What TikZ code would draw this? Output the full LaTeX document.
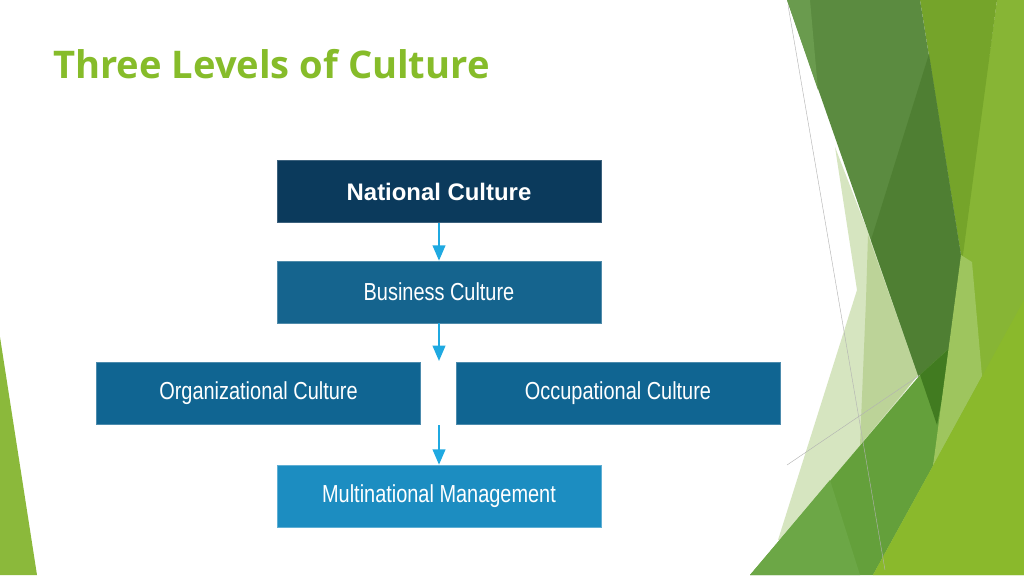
\documentclass[tikz,border=0pt]{standalone}
\usepackage{fontspec}
\usepackage{graphicx}
\setmainfont{Liberation Sans}
\newfontfamily\titlefont{Open Sans}
\usetikzlibrary{arrows.meta}
\definecolor{navy}{HTML}{0B3A5C}
\definecolor{bizblue}{HTML}{15648E}
\definecolor{orgblue}{HTML}{106592}
\definecolor{mnblue}{HTML}{1C8DC1}
\definecolor{arrowblue}{HTML}{1FA9E1}
\definecolor{titlegreen}{HTML}{86BC2A}
\definecolor{paleA}{HTML}{D6E5C0}
\definecolor{paleB}{HTML}{BCD398}
\definecolor{darkA}{HTML}{5B8B40}
\definecolor{darkB}{HTML}{4F7F33}
\definecolor{darkC}{HTML}{417B20}
\definecolor{stripA}{HTML}{6A9B4E}
\definecolor{bandA}{HTML}{75A42A}
\definecolor{limeA}{HTML}{87B535}
\definecolor{limeB}{HTML}{8AB92C}
\definecolor{midgreen}{HTML}{64A03B}
\definecolor{midlight}{HTML}{6CA746}
\definecolor{lightband}{HTML}{9EC55E}
\definecolor{lefttri}{HTML}{8BB93B}
\begin{document}
\begin{tikzpicture}[x=0.025cm,y=-0.025cm,
  box/.style={minimum width=8.1cm, minimum height=1.55cm, inner sep=0pt, text=white,
    font=\fontsize{17.5}{20}\selectfont},
  arr/.style={draw=arrowblue, line width=1.6pt, -{Triangle[length=11pt,width=9pt]}},
  thinline/.style={draw=black!30, line width=0.3pt}]
\useasboundingbox (0,0) rectangle (1024,575);
\fill[white] (0,0) rectangle (1024,575);
% background facets
\fill[limeA] (997,0) -- (1024,0) -- (1024,575) -- (873,575) -- (933,466) -- (961,255) -- cycle;
\fill[bandA] (920,0) -- (997,0) -- (962,262) -- cycle;
\fill[paleA] (835,147) -- (871,240) -- (918,375) -- (790,540) -- (778,540) -- (857,290) -- cycle;
\fill[paleB] (868,235) -- (918,375) -- (860,445) -- (866,300) -- cycle;
\fill[darkA] (787,0) -- (920,0) -- (962,262) -- (937,425) -- (918,375) -- cycle;
\fill[stripA] (787,0) -- (810,0) -- (818,90) -- cycle;
\fill[darkB] (929,54) -- (871,240) -- (918,375) -- (937,425) -- (962,262) -- cycle;
\fill[midgreen] (750,575) -- (920,375) -- (955,343) -- (933,466) -- (873,575) -- cycle;
\fill[midlight] (750,575) -- (830,480) -- (860,575) -- cycle;
\fill[darkC] (920,375) -- (952,346) -- (937,425) -- cycle;
\fill[lightband] (961,255) -- (972,262) -- (982,376) -- (933,466) -- cycle;
\fill[limeB] (1024,300) -- (1024,575) -- (873,575) -- cycle;
\draw[thinline] (788,5) -- (885,570);
\draw[thinline] (787,465) -- (920,375);
\fill[lefttri] (0,337) -- (37,575) -- (0,575) -- cycle;
% title
\node[anchor=base west, inner sep=0pt, text=titlegreen,
  font=\titlefont\bfseries\fontsize{27.1}{32}\selectfont] (title) at (53,78) {Three Levels of Culture};
% boxes
\node[box, fill=navy, draw=navy!80!white, font=\bfseries\fontsize{17}{20}\selectfont] (nat) at (439,191.5) {National Culture};
\node[box, fill=bizblue, draw=bizblue!75!white] (bus) at (439,292) {\scalebox{0.81}[1]{Business Culture}};
\node[box, fill=orgblue, draw=orgblue!75!white] (org) at (258.5,393) {\scalebox{0.81}[1]{Organizational Culture}};
\node[box, fill=orgblue, draw=orgblue!75!white] (occ) at (618,393) {\scalebox{0.81}[1]{Occupational Culture}};
\node[box, fill=mnblue, draw=mnblue!70!white] (mn) at (439,496) {\scalebox{0.81}[1]{Multinational Management}};
% arrows
\coordinate (c2) at (439,361);
\coordinate (c3) at (439,425);
\draw[arr] (nat.south) -- (bus.north);
\draw[arr] (bus.south) -- (c2);
\draw[arr] (c3) -- (mn.north);
\end{tikzpicture}
\end{document}
